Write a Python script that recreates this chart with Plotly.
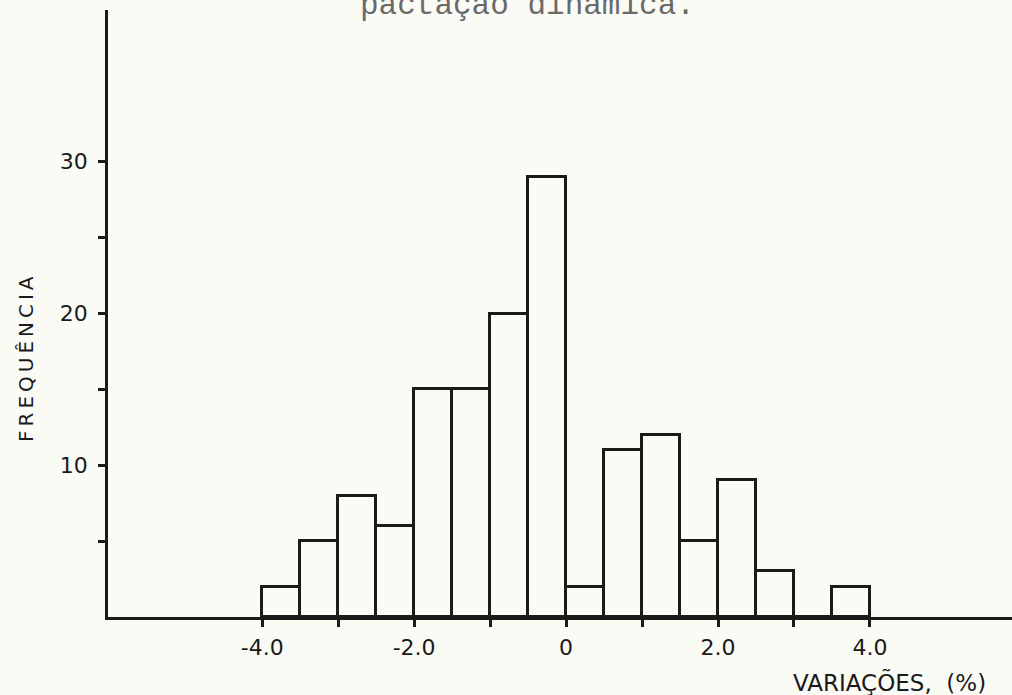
import plotly.graph_objects as go

# Histogram of variations (%), bins of width 0.5
bin_left = [-4.0, -3.5, -3.0, -2.5, -2.0, -1.5, -1.0, -0.5,
            0.0, 0.5, 1.0, 1.5, 2.0, 2.5, 3.0, 3.5]
frequency = [2, 5, 8, 6, 15, 15, 20, 29,
             2, 11, 12, 5, 9, 3, 0, 2]
bin_width = 0.5

x_tick_vals = [-4, -3, -2, -1, 0, 1, 2, 3, 4]
x_tick_text = ["-4.0", "", "-2.0", "", "0", "", "2.0", "", "4.0"]
y_tick_vals = [5, 10, 15, 20, 25, 30]
y_tick_text = ["", "10", "", "20", "", "30"]

bg = "#fbfbf6"
ink = "#1a1a1a"
label_font = dict(family="DejaVu Sans", size=22, color=ink)

centers = [b + bin_width / 2 for b in bin_left]

fig = go.Figure(
    go.Bar(
        x=centers,
        y=frequency,
        width=bin_width,
        marker=dict(color=bg, line=dict(color=ink, width=3)),
        hoverinfo="x+y",
    )
)

fig.update_layout(
    width=1012,
    height=695,
    paper_bgcolor=bg,
    plot_bgcolor=bg,
    margin=dict(l=108, r=0, t=10, b=78),
    showlegend=False,
    bargap=0,
    xaxis=dict(
        range=[-6.03, 5.87],
        tickvals=x_tick_vals,
        ticktext=x_tick_text,
        ticks="outside",
        ticklen=7,
        tickwidth=2.5,
        tickcolor=ink,
        showline=True,
        linecolor=ink,
        linewidth=2.5,
        showgrid=False,
        zeroline=False,
        tickfont=label_font,
        ticklabelstandoff=2,
    ),
    yaxis=dict(
        range=[0, 40],
        tickvals=y_tick_vals,
        ticktext=y_tick_text,
        ticks="outside",
        ticklen=7,
        tickwidth=2.5,
        tickcolor=ink,
        showline=True,
        linecolor=ink,
        linewidth=2.5,
        showgrid=False,
        zeroline=False,
        tickfont=label_font,
        ticklabelstandoff=6,
    ),
    annotations=[
        dict(
            text="pactação dinâmica.",
            xref="paper", yref="paper",
            x=(527 - 108) / 904, y=1,
            xanchor="center", yanchor="middle",
            yshift=5,
            showarrow=False,
            font=dict(family="Liberation Mono", size=31, color="#6a6a6a"),
        ),
        dict(
            text="F\u2009R\u2009E\u2009Q\u2009U\u2009Ê\u2009N\u2009C\u2009I\u2009A",
            xref="paper", yref="paper",
            x=(26 - 108) / 904, y=(617 - 359) / 607,
            xanchor="center", yanchor="middle",
            textangle=-90,
            showarrow=False,
            font=dict(family="DejaVu Sans", size=20, color=ink),
        ),
        dict(
            text="VARIAÇÕES,  (%)",
            xref="paper", yref="paper",
            x=(889 - 108) / 904, y=(617 - 682) / 607,
            xanchor="center", yanchor="middle",
            showarrow=False,
            font=dict(family="DejaVu Sans", size=23, color=ink),
        ),
    ],
)

fig.write_html("out.html")
